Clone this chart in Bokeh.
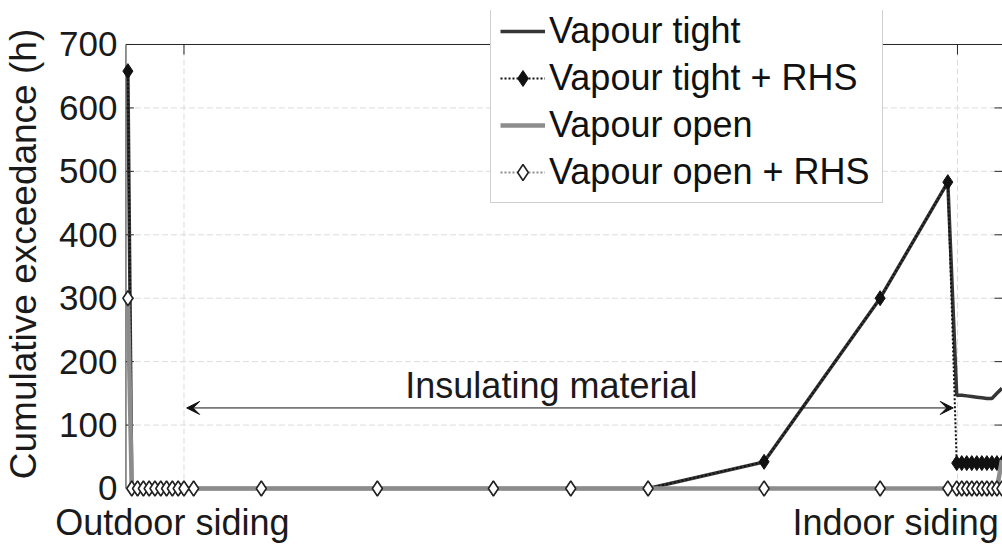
from bokeh.plotting import figure
from bokeh.models import (FixedTicker, Legend, LegendItem, Label, Arrow, VeeHead, Range1d, LinearAxis)
from bokeh.embed import file_html
from bokeh.resources import INLINE

# ---- data ----
# position through the wall, mm from the outdoor surface
position_mm = [0.5, 1.5, 3.0, 4.5, 6.0, 7.5, 9.0, 10.5, 12.0, 13.5, 15.0,
               17.5, 35, 65, 95, 115, 135, 165, 195, 212.5,
               214.8, 216.1, 217.4, 218.7, 220.0, 221.3, 222.6, 223.9, 225.2, 226.5]
vapour_tight = [658, 0, 0, 0, 0, 0, 0, 0, 0, 0, 0,
                0, 0, 0, 0, 0, 0, 42, 300, 483,
                147, 147, 146, 145, 144, 143, 142, 142, 150, 158]
vapour_tight_rhs = [658, 0, 0, 0, 0, 0, 0, 0, 0, 0, 0,
                    0, 0, 0, 0, 0, 0, 42, 300, 483,
                    40, 40, 40, 40, 40, 40, 40, 40, 40, 40]
vapour_open = [300, 0, 0, 0, 0, 0, 0, 0, 0, 0, 0,
               0, 0, 0, 0, 0, 0, 0, 0, 0,
               0, 0, 0, 0, 0, 0, 0, 0, 0, 45]
vapour_open_rhs = [300, 0, 0, 0, 0, 0, 0, 0, 0, 0, 0,
                   0, 0, 0, 0, 0, 0, 0, 0, 0,
                   0, 0, 0, 0, 0, 0, 0, 0, 0, 0]
layer_bounds_mm = [15, 215]
y_ticks = [0, 100, 200, 300, 400, 500, 600, 700]
series_names = ["Vapour tight", "Vapour tight + RHS", "Vapour open", "Vapour open + RHS"]
annotation_text = "Insulating material"
side_labels = ["Outdoor siding", "Indoor siding"]

# ---- layout constants ----
FONT = "Liberation Sans"
TXT = "#1a1a1a"
AX = "#262626"
PX_PER_MM = 3.885
PX_PER_H = 0.6343
X0, X1 = -1.93, 226.64         # visible x window (mm)
Y0, Y1 = -14.2, 753.6          # visible y window (h), extra room for markers / legend
side_label_pos = [12, 199]     # centres of the side captions (mm)

p = figure(width=1002, height=546, output_backend="svg", toolbar_location=None,
           x_range=Range1d(X0, X1), y_range=Range1d(Y0, Y1),
           x_axis_location=None,
           min_border_left=114, min_border_right=0, min_border_top=10, min_border_bottom=49)
p.outline_line_color = None
p.background_fill_color = "white"
p.border_fill_color = "white"
p.xgrid.visible = False
p.ygrid.visible = False

# y axis: tick labels only (the box edge is drawn below)
ya = p.yaxis[0]
ya.ticker = FixedTicker(ticks=y_ticks)
ya.major_tick_in = 0
ya.major_tick_out = 0
ya.major_tick_line_color = None
ya.minor_tick_line_color = None
ya.axis_line_color = None
ya.major_label_text_font = FONT
ya.major_label_text_font_size = "35px"
ya.major_label_text_color = TXT
ya.major_label_standoff = 1
ya.axis_label = "Cumulative exceedance (h)"
ya.axis_label_text_font = FONT
ya.axis_label_text_font_size = "37px"
ya.axis_label_text_font_style = "normal"
ya.axis_label_text_color = TXT
ya.axis_label_standoff = 12

# bottom captions as axis labels
xb = LinearAxis(ticker=FixedTicker(ticks=side_label_pos),
                major_label_overrides={side_label_pos[0]: side_labels[0],
                                       side_label_pos[1]: side_labels[1]})
xb.axis_line_color = None
xb.major_tick_line_color = None
xb.minor_tick_line_color = None
xb.major_tick_in = 0
xb.major_tick_out = 0
xb.major_label_standoff = 4
xb.major_label_text_font = FONT
xb.major_label_text_font_size = "36px"
xb.major_label_text_color = TXT
p.add_layout(xb, "below")

# grid (dashed, light) limited to the axes box
ymax = y_ticks[-1]
grid_y = y_ticks[1:-1]
p.segment(x0=[0] * len(grid_y), y0=grid_y, x1=[X1 + 5] * len(grid_y), y1=grid_y,
          line_color="#dcdcdc", line_width=1, line_dash="6 3")
p.segment(x0=layer_bounds_mm, y0=[0, 0], x1=layer_bounds_mm, y1=[ymax, ymax],
          line_color="#dcdcdc", line_width=1, line_dash="6 3")

# box edges (left + top) with inward ticks, right-edge ticks peeking in
tick_dx = 8 / PX_PER_MM
tick_dy = 10 / PX_PER_H
p.segment(x0=[0], y0=[0], x1=[0], y1=[ymax], line_color=AX, line_width=1)
p.segment(x0=[0], y0=[ymax], x1=[X1 + 5], y1=[ymax], line_color=AX, line_width=1)
p.segment(x0=[0] * len(y_ticks), y0=y_ticks, x1=[tick_dx] * len(y_ticks), y1=y_ticks,
          line_color=AX, line_width=1)
p.segment(x0=[X1 - tick_dx] * len(grid_y), y0=grid_y, x1=[X1 + 1] * len(grid_y), y1=grid_y,
          line_color=AX, line_width=1)
p.segment(x0=layer_bounds_mm, y0=[ymax, ymax], x1=layer_bounds_mm,
          y1=[ymax - tick_dy, ymax - tick_dy], line_color=AX, line_width=1)

# series
r_vt = p.line(position_mm, vapour_tight, line_color="#363636", line_width=3.5)
r_vtr_l = p.line(position_mm, vapour_tight_rhs, line_color="#111111", line_width=2, line_dash="2 2")
r_vtr_m = p.scatter(position_mm, vapour_tight_rhs, marker="diamond", size=15,
                    fill_color="#111111", line_color="#111111", line_width=1)
r_vo = p.line(position_mm, vapour_open, line_color="#8c8c8c", line_width=4.5)
r_vor_l = p.line(position_mm, vapour_open_rhs, line_color="#8c8c8c", line_width=2, line_dash="2 2")
r_vor_m = p.scatter(position_mm, vapour_open_rhs, marker="diamond", size=15,
                    fill_color="white", line_color="#222222", line_width=1.6)

# annotations
head_l = VeeHead(size=13, fill_color="#111111", line_color="#111111", line_width=1)
head_r = VeeHead(size=13, fill_color="#111111", line_color="#111111", line_width=1)
p.add_layout(Arrow(start=head_l, end=head_r, x_start=15.7, y_start=127, x_end=213.9, y_end=127,
                   line_color="#111111", line_width=1))
p.add_layout(Label(x=110, y=162, text=annotation_text, text_align="center", text_baseline="middle",
                   text_font=FONT, text_font_size="36px", text_color=TXT))

legend = Legend(items=[
    LegendItem(label=series_names[0], renderers=[r_vt]),
    LegendItem(label=series_names[1], renderers=[r_vtr_l, r_vtr_m]),
    LegendItem(label=series_names[2], renderers=[r_vo]),
    LegendItem(label=series_names[3], renderers=[r_vor_l, r_vor_m]),
], location=(372, 294), padding=9, spacing=5, margin=0,
    glyph_width=45, glyph_height=40, label_height=40, label_width=324, label_standoff=4,
    label_text_font=FONT, label_text_font_size="36px", label_text_color="#111111",
    border_line_color="#a0a0a0", border_line_width=1,
    background_fill_color="white", background_fill_alpha=1.0)
p.add_layout(legend)

open("out.html", "w").write(file_html(p, INLINE))
